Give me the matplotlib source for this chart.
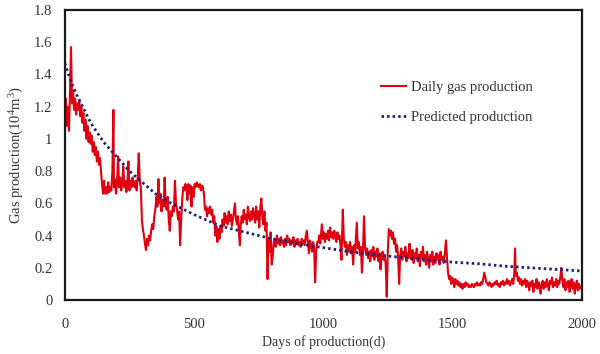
import matplotlib
matplotlib.use("Agg")
import matplotlib.pyplot as plt

plt.rcParams['font.family'] = ['Liberation Serif', 'DejaVu Serif']
plt.rcParams['mathtext.fontset'] = 'custom'
plt.rcParams['mathtext.rm'] = 'Liberation Serif'
plt.rcParams['mathtext.it'] = 'Liberation Serif:italic'

# Daily gas production, 10^4 m^3 per day
days = [0, 4, 8, 12, 16, 20, 24, 28, 32, 36, 40, 44, 48, 52, 56, 60, 64, 68,
        72, 76, 80, 84, 88, 92, 96, 100, 104, 108, 112, 116, 120, 124, 128, 132,
        136, 140, 144, 148, 152, 156, 160, 164, 168, 172, 176, 180, 184, 188, 190,
        194, 198, 202, 206, 210, 214, 218, 222, 226, 230, 234, 238, 242, 246, 250,
        254, 258, 262, 266, 270, 274, 278, 282, 286, 290, 294,
        298, 302, 306, 310, 314, 318, 322, 326, 330, 334, 338, 342, 346, 350, 354,
        358, 362, 366, 370, 374, 378, 382, 386, 390, 394, 398, 402, 406, 410, 414,
        418, 422, 426, 430, 434, 438, 442, 446, 450, 454, 458, 462, 466, 470, 474,
        478, 482, 486, 490, 494, 498, 502, 506, 510, 514, 518, 522, 526, 530, 534,
        538, 542, 546, 550, 554, 558, 562, 566, 570, 574, 578, 582, 586, 590, 594,
        598, 602, 606, 610, 614, 618, 622, 626, 630, 634, 638, 642, 646, 650, 654,
        658, 662, 666, 670, 674, 677, 680, 684, 688, 692, 696, 700, 704, 708, 712,
        716, 720, 724, 728, 732, 736, 740, 744, 748, 752, 756, 760, 764, 768, 772,
        776, 780, 784, 788, 792, 796, 800, 804, 808, 812, 816, 820, 824, 828, 832,
        836, 840, 844, 848, 852, 856, 860, 864, 868, 872, 876, 880, 884, 888, 892,
        896, 900, 904, 908, 912, 916, 920, 924, 928, 932, 936, 940, 944, 948, 952,
        956, 960, 964, 968, 972, 976, 980, 984, 988, 994, 998, 1002, 1006, 1010,
        1014, 1018, 1022, 1026, 1030, 1034, 1038, 1042, 1046, 1050, 1054, 1058,
        1062, 1066, 1070, 1075, 1079, 1083, 1087, 1091, 1095, 1099, 1103, 1107,
        1111, 1115, 1119, 1123, 1129, 1133, 1137, 1141, 1145, 1149, 1153, 1157,
        1161, 1165, 1169, 1173, 1177, 1181, 1185, 1189, 1193, 1197, 1201, 1205,
        1209, 1213, 1217, 1221, 1225, 1229, 1233, 1237, 1241, 1245, 1249, 1253,
        1257, 1261, 1265, 1269, 1273, 1277, 1281, 1285, 1289, 1293, 1297, 1301,
        1305, 1309, 1313, 1317, 1321, 1325, 1329, 1333, 1337, 1341, 1345, 1349,
        1353, 1357, 1361, 1365, 1369, 1373, 1377, 1381, 1385, 1389, 1393, 1397,
        1401, 1405, 1409, 1413, 1417, 1421, 1425, 1429, 1433, 1437, 1441, 1445,
        1449, 1453, 1457, 1461, 1465, 1469, 1474, 1478, 1482, 1486, 1490, 1494,
        1498, 1502, 1506, 1510, 1514, 1518, 1522, 1526, 1530, 1534, 1538, 1542,
        1546, 1550, 1554, 1558, 1562, 1566, 1570, 1574, 1578, 1582, 1586, 1590,
        1594, 1598, 1602, 1606, 1610, 1614, 1618, 1622, 1626, 1630, 1634, 1638,
        1642, 1646, 1650, 1654, 1658, 1662, 1666, 1670, 1674, 1678, 1682, 1686,
        1690, 1694, 1698, 1702, 1706, 1710, 1714, 1718, 1722, 1726, 1730, 1734,
        1738, 1741, 1744, 1748, 1752, 1756, 1760, 1764, 1768, 1772, 1776, 1780,
        1784, 1788, 1792, 1796, 1800, 1804, 1808, 1812, 1816, 1820, 1824, 1828,
        1832, 1836, 1840, 1844, 1848, 1852, 1856, 1860, 1864, 1868, 1872, 1876,
        1880, 1884, 1888, 1892, 1896, 1900, 1904, 1908, 1912, 1916, 1920, 1924,
        1928, 1932, 1936, 1940, 1944, 1948, 1952, 1956, 1960, 1964, 1968, 1972,
        1976, 1980, 1984, 1988, 1992, 1996]

daily_gas = [1.15, 1.25, 1.08, 1.20, 1.05, 1.28, 1.57, 1.22, 1.30, 1.18, 1.25, 1.15, 1.22, 1.18, 1.24, 1.14, 1.20, 1.10,
             1.16, 1.05, 1.12, 1.00, 1.08, 0.98, 1.04, 0.97, 1.02, 0.92, 0.98, 0.90, 0.95, 0.86, 0.92, 0.84,
             0.88, 0.80, 0.72, 0.66, 0.74, 0.66, 0.70, 0.66, 0.73, 0.67, 0.70, 0.68, 0.80, 1.18, 0.70,
             0.75, 0.66, 0.72, 0.89, 0.70, 0.76, 0.68, 0.72, 0.83, 0.70, 0.74, 0.67, 0.72, 0.86, 0.68,
             0.74, 0.70, 0.76, 0.72, 0.70, 0.74, 0.68, 0.76, 0.91, 0.74, 0.70,
             0.50, 0.44, 0.40, 0.35, 0.31, 0.38, 0.34, 0.40, 0.37, 0.43, 0.47, 0.44, 0.52, 0.56, 0.64,
             0.58, 0.75, 0.60, 0.66, 0.55, 0.62, 0.58, 0.76, 0.60, 0.56, 0.64, 0.50, 0.43, 0.55, 0.52,
             0.58, 0.55, 0.74, 0.60, 0.56, 0.50, 0.55, 0.34, 0.50, 0.62, 0.70, 0.68, 0.72, 0.70, 0.62,
             0.72, 0.66, 0.71, 0.58, 0.70, 0.64, 0.72, 0.70, 0.73, 0.71, 0.70, 0.72, 0.68, 0.71, 0.70,
             0.66, 0.56, 0.58, 0.52, 0.57, 0.54, 0.58, 0.53, 0.56, 0.48, 0.52, 0.40, 0.46, 0.36, 0.44,
             0.38, 0.45, 0.42, 0.50, 0.46, 0.54, 0.48, 0.52, 0.47, 0.55, 0.49, 0.53, 0.46, 0.50, 0.55,
             0.60, 0.50, 0.47, 0.52, 0.40, 0.34, 0.46, 0.52, 0.48, 0.56, 0.50, 0.53, 0.47, 0.58, 0.52,
             0.49, 0.55, 0.50, 0.57, 0.52, 0.48, 0.58, 0.50, 0.55, 0.45, 0.57, 0.63, 0.52, 0.47, 0.55,
             0.43, 0.48, 0.13, 0.38, 0.30, 0.42, 0.22, 0.27, 0.36, 0.38, 0.33, 0.40, 0.35, 0.38, 0.34,
             0.39, 0.35, 0.37, 0.33, 0.38, 0.34, 0.40, 0.36, 0.38, 0.34, 0.37, 0.35, 0.39, 0.33, 0.37,
             0.35, 0.38, 0.34, 0.36, 0.33, 0.38, 0.35, 0.37, 0.34, 0.40, 0.43, 0.36, 0.29, 0.37, 0.34,
             0.30, 0.36, 0.33, 0.11, 0.30, 0.36, 0.36, 0.40, 0.35, 0.47, 0.38, 0.42, 0.36, 0.41,
             0.38, 0.43, 0.37, 0.45, 0.39, 0.42, 0.38, 0.43, 0.40, 0.36, 0.42, 0.38,
             0.40, 0.34, 0.25, 0.56, 0.38, 0.33, 0.36, 0.28, 0.34, 0.30, 0.36, 0.29,
             0.33, 0.22, 0.34, 0.30, 0.48, 0.32, 0.36, 0.28, 0.33, 0.17, 0.30, 0.52,
             0.33, 0.28, 0.32, 0.26, 0.30, 0.24, 0.31, 0.27, 0.33, 0.25, 0.30, 0.27,
             0.32, 0.24, 0.29, 0.19, 0.27, 0.30, 0.25, 0.28, 0.22, 0.02, 0.30, 0.44,
             0.40, 0.43, 0.38, 0.42, 0.35, 0.38, 0.30, 0.34, 0.26, 0.10, 0.28, 0.32,
             0.25, 0.30, 0.27, 0.33, 0.24, 0.29, 0.26, 0.35, 0.28, 0.25, 0.31, 0.23,
             0.29, 0.26, 0.32, 0.24, 0.28, 0.21, 0.30, 0.26, 0.33, 0.24, 0.28, 0.22,
             0.30, 0.25, 0.20, 0.28, 0.24, 0.30, 0.22, 0.27, 0.23, 0.29, 0.25, 0.28,
             0.22, 0.30, 0.25, 0.27, 0.23, 0.28, 0.37, 0.26, 0.17, 0.13, 0.15, 0.10,
             0.14, 0.12, 0.08, 0.13, 0.10, 0.12, 0.09, 0.11, 0.08, 0.10, 0.07, 0.10,
             0.08, 0.11, 0.09, 0.10, 0.08, 0.09, 0.08, 0.10, 0.09, 0.08, 0.10, 0.09,
             0.11, 0.09, 0.10, 0.09, 0.11, 0.10, 0.13, 0.17, 0.14, 0.11, 0.10, 0.09,
             0.11, 0.10, 0.08, 0.10, 0.09, 0.11, 0.10, 0.12, 0.09, 0.10, 0.08, 0.11,
             0.10, 0.12, 0.09, 0.11, 0.10, 0.13, 0.10, 0.12, 0.09, 0.11, 0.13, 0.10,
             0.16, 0.32, 0.15, 0.17, 0.12, 0.14, 0.10, 0.13, 0.09, 0.12, 0.10, 0.13,
             0.08, 0.12, 0.10, 0.06, 0.11, 0.09, 0.12, 0.05, 0.10, 0.08, 0.13, 0.07,
             0.11, 0.09, 0.04, 0.10, 0.12, 0.07, 0.11, 0.08, 0.13, 0.09, 0.06, 0.12,
             0.10, 0.14, 0.08, 0.11, 0.09, 0.13, 0.08, 0.12, 0.10, 0.14, 0.20, 0.12,
             0.08, 0.13, 0.06, 0.11, 0.08, 0.12, 0.05, 0.10, 0.13, 0.07, 0.11, 0.04,
             0.09, 0.12, 0.06, 0.10, 0.07, 0.08]

# Decline-curve prediction
pred_days = [0, 25, 50, 75, 100, 150, 200, 250, 300, 350, 400, 500, 600, 700, 800,
             900, 1000, 1100, 1200, 1300, 1400, 1500, 1600, 1700, 1800, 1900, 2000]
pred_gas = [1.47, 1.35, 1.26, 1.18, 1.10, 0.98, 0.89, 0.80, 0.73, 0.66, 0.61, 0.53, 0.46,
            0.42, 0.38, 0.35, 0.325, 0.30, 0.28, 0.265, 0.25, 0.235, 0.225, 0.21, 0.20,
            0.19, 0.18]

x_ticks = [0, 500, 1000, 1500, 2000]
y_ticks = [0, 0.2, 0.4, 0.6, 0.8, 1.0, 1.2, 1.4, 1.6, 1.8]
y_tick_labels = ['0', '0.2', '0.4', '0.6', '0.8', '1', '1.2', '1.4', '1.6', '1.8']

fig = plt.figure(figsize=(6.0, 3.54), dpi=100)
ax = fig.add_axes([0.108, 0.1525, 0.862, 0.8193])

ax.plot(days, daily_gas, color='#e0000f', lw=1.5, label='Daily gas production', zorder=2)
ax.plot(pred_days, pred_gas, color='#1c237c', lw=2.0, dashes=(0.9, 1.1),
        label='Predicted production', zorder=3)

ax.set_xlim(0, 2000)
ax.set_ylim(0, 1.8)
ax.set_xticks(x_ticks)
ax.set_yticks(y_ticks)
ax.set_yticklabels(y_tick_labels)
ax.tick_params(length=0, labelsize=10.5, colors='#333333')
ax.tick_params(axis='y', pad=9)
ax.tick_params(axis='x', pad=13)

for s in ax.spines.values():
    s.set_linewidth(1.6)
    s.set_color('#1a1a1a')

ax.set_xlabel('Days of production(d)', fontsize=10, color='#333333', labelpad=3)
ax.set_ylabel('Gas production(10$^{4}$m$^{3}$)', fontsize=10.5, color='#333333', labelpad=6)

leg = ax.legend(loc='upper left', bbox_to_anchor=(0.6, 0.775), frameon=False,
                fontsize=10.5, handlelength=1.7, handletextpad=0.35, labelspacing=1.15,
                borderaxespad=0)
for t in leg.get_texts():
    t.set_color('#333333')

fig.savefig('out.png', dpi=100, facecolor='white')
